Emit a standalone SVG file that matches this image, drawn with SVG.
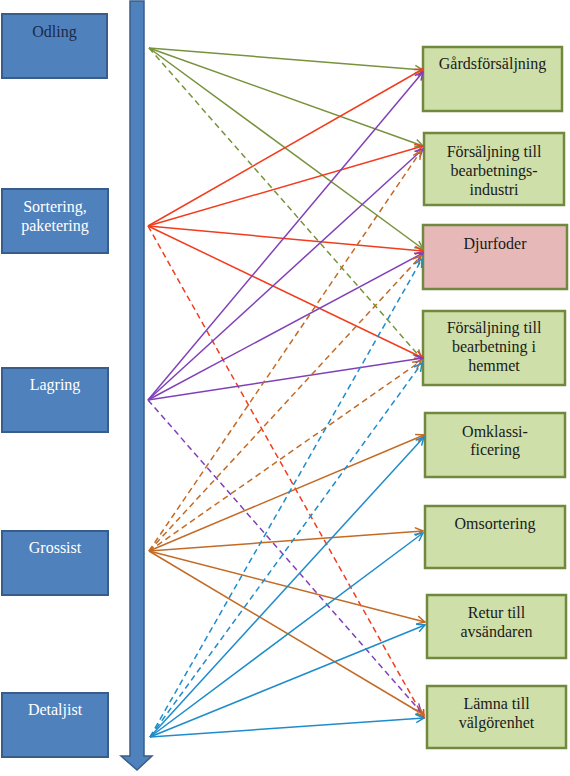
<svg xmlns="http://www.w3.org/2000/svg" width="570" height="776" viewBox="0 0 570 776">
<style>
.lb{fill:#4f81bd;stroke:#385d8a;stroke-width:2}
.rb{fill:#cfdfa9;stroke:#71893f;stroke-width:2.5}
.pk{fill:#e6b9b8;stroke:#71893f;stroke-width:2.5}
.t{font-family:'Liberation Serif','Times New Roman','DejaVu Serif',serif;font-size:16px;text-anchor:middle}
.w{fill:#ffffff}
.d{fill:#1a1a1a}
.k{fill:#1b2a48}
.c line{stroke-width:1.5;fill:none}
.ds{stroke-dasharray:6 4}
.g{stroke:#77933c}
.r{stroke:#f23c1e}
.p{stroke:#8040b8}
.o{stroke:#c36a25}
.b{stroke:#1e8ccc}
</style>
<defs>
<marker id="mg" viewBox="0 0 10 10" refX="9" refY="5" markerWidth="10" markerHeight="10" markerUnits="userSpaceOnUse" orient="auto"><path d="M1,1 L9,5 L1,9" fill="none" stroke="#77933c" stroke-width="1.5"/></marker>
<marker id="mr" viewBox="0 0 10 10" refX="9" refY="5" markerWidth="10" markerHeight="10" markerUnits="userSpaceOnUse" orient="auto"><path d="M1,1 L9,5 L1,9" fill="none" stroke="#f23c1e" stroke-width="1.5"/></marker>
<marker id="mp" viewBox="0 0 10 10" refX="9" refY="5" markerWidth="10" markerHeight="10" markerUnits="userSpaceOnUse" orient="auto"><path d="M1,1 L9,5 L1,9" fill="none" stroke="#8040b8" stroke-width="1.5"/></marker>
<marker id="mo" viewBox="0 0 10 10" refX="9" refY="5" markerWidth="10" markerHeight="10" markerUnits="userSpaceOnUse" orient="auto"><path d="M1,1 L9,5 L1,9" fill="none" stroke="#c36a25" stroke-width="1.5"/></marker>
<marker id="mb" viewBox="0 0 10 10" refX="9" refY="5" markerWidth="10" markerHeight="10" markerUnits="userSpaceOnUse" orient="auto"><path d="M1,1 L9,5 L1,9" fill="none" stroke="#1e8ccc" stroke-width="1.5"/></marker>
</defs>
<rect width="570" height="776" fill="#ffffff"/>
<g id="timeline">
<path d="M130,1 H144 V756 H152 L137,770 L121,756 H130 Z" fill="#4f81bd" stroke="#385d8a" stroke-width="1.5"/>
</g>
<g id="odling"><rect class="lb" x="2" y="14" width="105" height="64"/><text class="t k" x="54.5" y="37">Odling</text></g>
<g id="sortering"><rect class="lb" x="2" y="189" width="106" height="64"/><text class="t w" x="55" y="212">Sortering,</text><text class="t w" x="55" y="231">paketering</text></g>
<g id="lagring"><rect class="lb" x="2" y="368" width="106" height="64"/><text class="t w" x="55" y="390">Lagring</text></g>
<g id="grossist"><rect class="lb" x="2" y="531" width="106" height="64"/><text class="t w" x="55" y="553">Grossist</text></g>
<g id="detaljist"><rect class="lb" x="2" y="693" width="106" height="64"/><text class="t w" x="55" y="715">Detaljist</text></g>

<g id="gardsforsaljning"><rect class="rb" x="423" y="47" width="139" height="64"/><text class="t d" x="492.5" y="69">Gårdsförsäljning</text></g>
<g id="industri"><rect class="rb" x="424" y="133" width="140" height="72"/><text class="t d" x="494" y="157">Försäljning till</text><text class="t d" x="494" y="176">bearbetnings-</text><text class="t d" x="494" y="195">industri</text></g>
<g id="djurfoder"><rect class="pk" x="423" y="225" width="144" height="64"/><text class="t d" x="495" y="249">Djurfoder</text></g>
<g id="hemmet"><rect class="rb" x="423" y="311" width="142" height="74"/><text class="t d" x="494" y="333">Försäljning till</text><text class="t d" x="494" y="352">bearbetning i</text><text class="t d" x="494" y="371">hemmet</text></g>
<g id="omklassificering"><rect class="rb" x="425" y="413" width="140" height="64"/><text class="t d" x="495" y="437">Omklassi-</text><text class="t d" x="495" y="455">ficering</text></g>
<g id="omsortering"><rect class="rb" x="425" y="506" width="140" height="62"/><text class="t d" x="495" y="529">Omsortering</text></g>
<g id="retur"><rect class="rb" x="427" y="595" width="139" height="63"/><text class="t d" x="496.5" y="618">Retur till</text><text class="t d" x="496.5" y="637">avsändaren</text></g>
<g id="lamna"><rect class="rb" x="427" y="686" width="139" height="62"/><text class="t d" x="496.5" y="709">Lämna till</text><text class="t d" x="496.5" y="728">välgörenhet</text></g>

<g id="connectors" class="c">
<line class="g" x1="149" y1="48" x2="423" y2="70" marker-end="url(#mg)"/>
<line class="g" x1="149" y1="48" x2="423" y2="146" marker-end="url(#mg)"/>
<line class="g" x1="149" y1="48" x2="423" y2="249" marker-end="url(#mg)"/>
<line class="g ds" x1="149" y1="48" x2="421" y2="358" marker-end="url(#mg)"/>

<line class="r" x1="148" y1="226" x2="423" y2="69" marker-end="url(#mr)"/>
<line class="r" x1="148" y1="226" x2="423" y2="146" marker-end="url(#mr)"/>
<line class="r" x1="148" y1="226" x2="423" y2="251" marker-end="url(#mr)"/>
<line class="r" x1="148" y1="226" x2="423" y2="358" marker-end="url(#mr)"/>
<line class="r ds" x1="148" y1="226" x2="424" y2="718" marker-end="url(#mr)"/>

<line class="p" x1="148" y1="400" x2="423" y2="72" marker-end="url(#mp)"/>
<line class="p" x1="148" y1="400" x2="423" y2="149" marker-end="url(#mp)"/>
<line class="p" x1="148" y1="400" x2="423" y2="253" marker-end="url(#mp)"/>
<line class="p" x1="148" y1="400" x2="423" y2="358" marker-end="url(#mp)"/>
<line class="p ds" x1="148" y1="400" x2="421" y2="712" marker-end="url(#mp)"/>

<line class="o ds" x1="149" y1="551" x2="421" y2="151" marker-end="url(#mo)"/>
<line class="o ds" x1="149" y1="551" x2="421" y2="256" marker-end="url(#mo)"/>
<line class="o ds" x1="149" y1="551" x2="421" y2="361" marker-end="url(#mo)"/>
<line class="o" x1="149" y1="551" x2="424" y2="435" marker-end="url(#mo)"/>
<line class="o" x1="149" y1="551" x2="423" y2="531" marker-end="url(#mo)"/>
<line class="o" x1="149" y1="551" x2="425" y2="622" marker-end="url(#mo)"/>
<line class="o" x1="149" y1="551" x2="424" y2="715" marker-end="url(#mo)"/>

<line class="b ds" x1="150" y1="737" x2="422" y2="259" marker-end="url(#mb)"/>
<line class="b ds" x1="150" y1="737" x2="422" y2="363" marker-end="url(#mb)"/>
<line class="b" x1="150" y1="737" x2="424" y2="437" marker-end="url(#mb)"/>
<line class="b" x1="150" y1="737" x2="423" y2="533" marker-end="url(#mb)"/>
<line class="b" x1="150" y1="737" x2="425" y2="625" marker-end="url(#mb)"/>
<line class="b" x1="150" y1="737" x2="424" y2="718" marker-end="url(#mb)"/>
</g>
</svg>
